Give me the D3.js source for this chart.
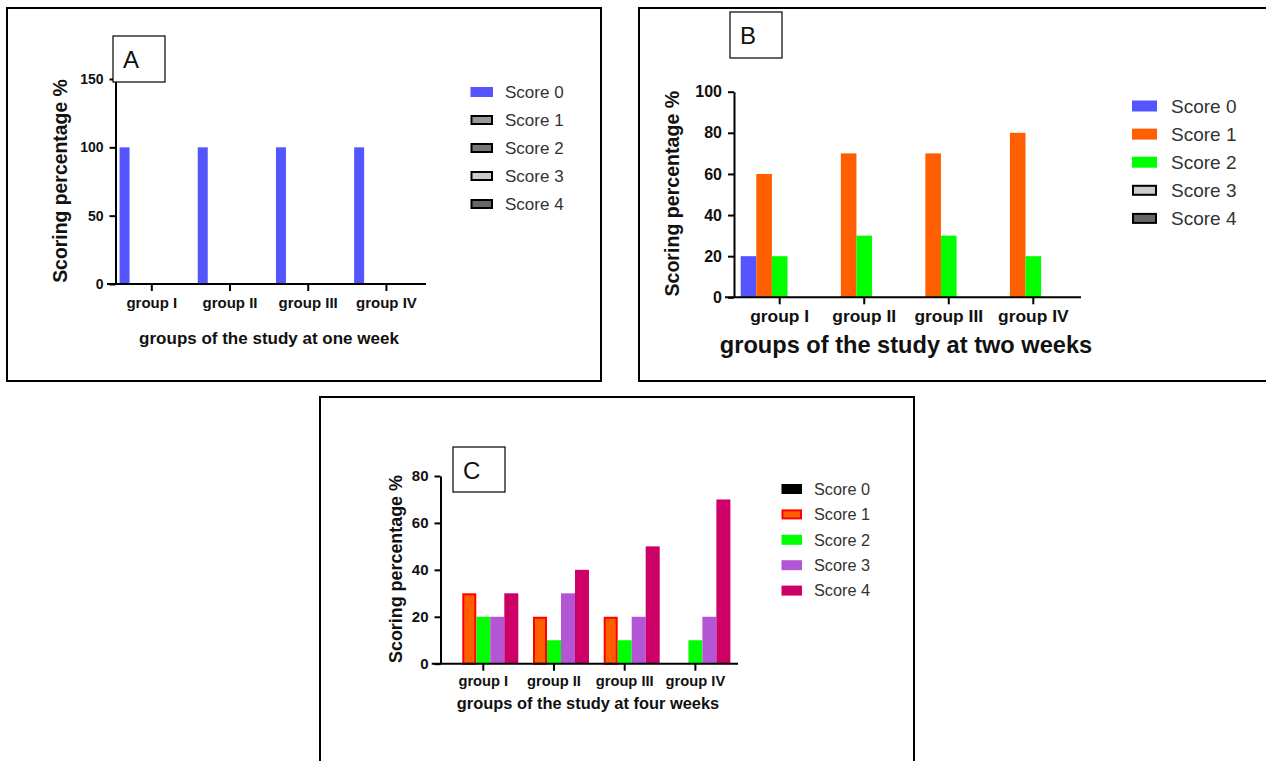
<!DOCTYPE html>
<html><head><meta charset="utf-8">
<script src="https://cdn.jsdelivr.net/npm/d3@7/dist/d3.min.js"></script>
<style>
body{margin:0;background:#fff}
svg{display:block}
text{font-family:"Liberation Sans",Arial,Helvetica,sans-serif}
</style>
</head><body>
<svg id="chart" width="1266" height="761"></svg>
<script>
// ---------------- DATA ----------------
const groups = ["group I", "group II", "group III", "group IV"];
const scores = ["Score 0", "Score 1", "Score 2", "Score 3", "Score 4"];

// values per score (rows) for each group (columns)
const oneWeek   = [[100, 100, 100, 100], [0, 0, 0, 0], [0, 0, 0, 0], [0, 0, 0, 0], [0, 0, 0, 0]];
const twoWeeks  = [[20, 0, 0, 0], [60, 70, 70, 80], [20, 30, 30, 20], [0, 0, 0, 0], [0, 0, 0, 0]];
const fourWeeks = [[0, 0, 0, 0], [30, 20, 20, 0], [20, 10, 10, 10], [20, 30, 20, 20], [30, 40, 50, 70]];

const ticksA = [0, 50, 100, 150];
const ticksB = [0, 20, 40, 60, 80, 100];
const ticksC = [0, 20, 40, 60, 80];

const titleA = "groups of the study at one week";
const titleB = "groups of the study at two weeks";
const titleC = "groups of the study at four weeks";
const yTitle = "Scoring percentage %";

// ---------------- STYLES ----------------
const fillsA   = ["#5555FF", "#999999", "#777777", "#CCCCCC", "#666666"];
const strokesA = [null, "#000", "#000", "#000", "#000"];
const fillsB   = ["#5555FF", "#FF5F00", "#00FF00", "#CCCCCC", "#666666"];
const strokesB = [null, null, null, "#000", "#000"];
const fillsC   = ["#000000", "#FF5F00", "#00FF00", "#B455D6", "#CC0066"];
const strokesC = [null, "#FF0000", null, null, null];

const svg = d3.select("#chart");

function panel(cfg) {
  const g = svg.append("g");
  // frame
  g.append("rect")
    .attr("x", cfg.frame[0]).attr("y", cfg.frame[1])
    .attr("width", cfg.frame[2]).attr("height", cfg.frame[3])
    .attr("fill", "none").attr("stroke", "#000").attr("stroke-width", 2);

  const y = d3.scaleLinear().domain([0, d3.max(cfg.ticks)]).range([cfg.yBottom, cfg.yTop]);
  const step = (cfg.cLast - cfg.cFirst) / (groups.length - 1);
  const x0 = d3.scaleBand().domain(groups)
    .range([cfg.cFirst - step / 2, cfg.cLast + step / 2]).padding(0);
  const x1 = d3.scaleBand().domain(scores)
    .range([-cfg.slot * scores.length / 2, cfg.slot * scores.length / 2]).padding(0);

  // bars
  scores.forEach((s, i) => {
    const vals = cfg.data[i];
    groups.forEach((grp, j) => {
      const v = vals[j];
      if (!v) return;
      const bx = x0(grp) + x0.bandwidth() / 2 + x1(s);
      const by = y(v);
      const bh = y(0) - by;
      const st = cfg.strokes[i];
      if (st) {
        g.append("rect")
          .attr("x", bx + 1).attr("y", by + 1)
          .attr("width", cfg.barW - 2).attr("height", bh - 1)
          .attr("fill", cfg.fills[i]).attr("stroke", st).attr("stroke-width", 2);
      } else {
        g.append("rect")
          .attr("x", bx).attr("y", by)
          .attr("width", cfg.barW).attr("height", bh)
          .attr("fill", cfg.fills[i]);
      }
    });
  });

  // y axis
  const ya = g.append("g").attr("transform", `translate(${cfg.yAxisX},0)`)
    .call(d3.axisLeft(y).tickValues(cfg.ticks).tickSize(6).tickSizeOuter(0).tickPadding(cfg.tickPad));
  ya.select(".domain").attr("stroke-width", 2);
  ya.selectAll(".tick line").attr("stroke-width", 2);
  ya.selectAll(".tick text").attr("font-size", cfg.yTickSize).attr("font-weight", "bold")
    .attr("fill", "#111").attr("font-family", null);

  // x axis
  const xa = g.append("g").attr("transform", `translate(0,${cfg.yBottom})`)
    .call(d3.axisBottom(x0).tickSize(7).tickSizeOuter(0));
  xa.select(".domain").remove();
  xa.selectAll(".tick line").attr("stroke-width", 2);
  xa.selectAll(".tick text").attr("font-size", cfg.xTickSize).attr("font-weight", "bold")
    .attr("fill", "#111").attr("font-family", null)
    .attr("dy", null).attr("y", cfg.xTickBase - cfg.yBottom);
  g.append("line")
    .attr("x1", cfg.xLineL).attr("x2", cfg.xLineR)
    .attr("y1", cfg.yBottom).attr("y2", cfg.yBottom)
    .attr("stroke", "#000").attr("stroke-width", 2);

  // axis titles
  g.append("text").text(cfg.xTitle)
    .attr("x", cfg.xTitlePos[0]).attr("y", cfg.xTitlePos[1])
    .attr("text-anchor", "middle").attr("font-weight", "bold")
    .attr("font-size", cfg.xTitleSize).attr("fill", "#111");
  g.append("text").text(yTitle)
    .attr("transform", `translate(${cfg.yTitlePos[0]},${cfg.yTitlePos[1]}) rotate(-90)`)
    .attr("text-anchor", "middle").attr("font-weight", "bold")
    .attr("font-size", cfg.yTitleSize).attr("fill", "#111");

  // legend
  scores.forEach((s, i) => {
    const cy = cfg.legRows[0] + i * cfg.legGap;
    const st = cfg.strokes[i];
    const sw = g.append("rect")
      .attr("fill", cfg.fills[i]);
    if (st) {
      sw.attr("x", cfg.legX + 1).attr("y", cy - cfg.legH / 2 + 1)
        .attr("width", cfg.legW - 2).attr("height", cfg.legH - 2)
        .attr("stroke", st).attr("stroke-width", 2);
    } else {
      sw.attr("x", cfg.legX).attr("y", cy - cfg.legH / 2)
        .attr("width", cfg.legW).attr("height", cfg.legH);
    }
    g.append("text").text(s)
      .attr("x", cfg.legTextX).attr("y", cy).attr("dy", "0.36em")
      .attr("font-size", cfg.legSize).attr("fill", "#333");
  });

  // panel label box
  g.append("rect")
    .attr("x", cfg.box[0]).attr("y", cfg.box[1])
    .attr("width", cfg.box[2]).attr("height", cfg.box[3])
    .attr("fill", "#fff").attr("stroke", "#000").attr("stroke-width", 1.2);
  g.append("text").text(cfg.label)
    .attr("x", cfg.box[0] + 10).attr("y", cfg.box[1] + 32)
    .attr("font-size", 24).attr("fill", "#111");
}

panel({
  data: oneWeek, ticks: ticksA, fills: fillsA, strokes: strokesA, label: "A", xTitle: titleA,
  frame: [7, 8, 594, 373],
  yBottom: 284, yTop: 79, yAxisX: 115.5, tickPad: 6,
  cFirst: 151.8, cLast: 386.4, slot: 12.9, barW: 10,
  xLineL: 107, xLineR: 426,
  yTickSize: 14, xTickSize: 15, xTickBase: 308,
  xTitlePos: [269, 344], xTitleSize: 17,
  yTitlePos: [67, 181], yTitleSize: 19.4,
  legX: 470.5, legW: 22.5, legH: 10, legRows: [92], legGap: 28, legTextX: 505, legSize: 17,
  box: [113, 36, 52, 46]
});

panel({
  data: twoWeeks, ticks: ticksB, fills: fillsB, strokes: strokesB, label: "B", xTitle: titleB,
  frame: [639, 8, 640, 373],
  yBottom: 297.3, yTop: 91.7, yAxisX: 734, tickPad: 6,
  cFirst: 779.7, cLast: 1033.3, slot: 15.6, barW: 15.6,
  xLineL: 725, xLineR: 1081,
  yTickSize: 16, xTickSize: 17.4, xTickBase: 322,
  xTitlePos: [906, 352.5], xTitleSize: 23.6,
  yTitlePos: [678.5, 193.7], yTitleSize: 19.6,
  legX: 1132, legW: 25, legH: 11, legRows: [106], legGap: 28.1, legTextX: 1171, legSize: 19,
  box: [730, 12, 52, 46]
});

panel({
  data: fourWeeks, ticks: ticksC, fills: fillsC, strokes: strokesC, label: "C", xTitle: titleC,
  frame: [320, 397, 594, 380],
  yBottom: 663.7, yTop: 476, yAxisX: 440.5, tickPad: 6,
  cFirst: 483.3, cLast: 695.4, slot: 14, barW: 14,
  xLineL: 431.7, xLineR: 738,
  yTickSize: 15, xTickSize: 14.7, xTickBase: 686,
  xTitlePos: [588, 709], xTitleSize: 16.4,
  yTitlePos: [402, 569], yTitleSize: 17.9,
  legX: 781.5, legW: 20.5, legH: 10, legRows: [489], legGap: 25.4, legTextX: 814, legSize: 16.3,
  box: [453, 447, 52, 45]
});
</script>
</body></html>
